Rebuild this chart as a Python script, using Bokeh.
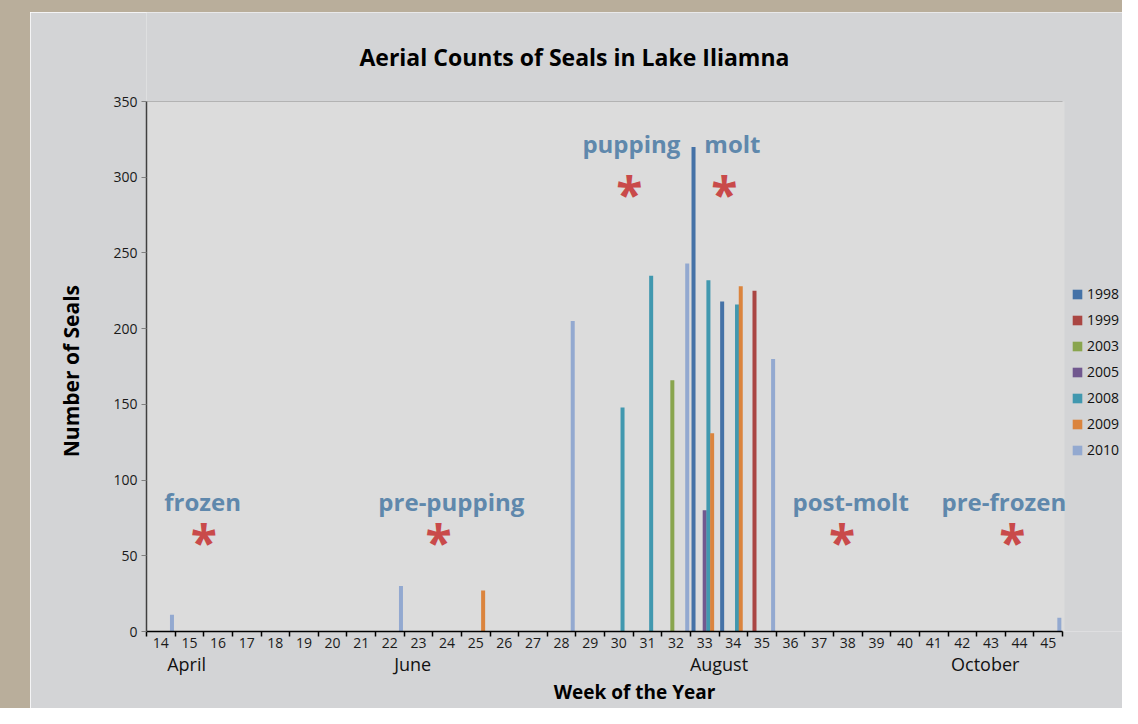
from bokeh.plotting import figure
from bokeh.models import (ColumnDataSource, FixedTicker, LinearAxis, Legend, LegendItem,
                          Label, Range1d, Spacer, BoxAnnotation)
from bokeh.layouts import row, column
from bokeh.transform import dodge
from bokeh.embed import file_html
from bokeh.resources import INLINE

# ---------------- data ----------------
weeks = list(range(14, 46))
week_tick_labels = [str(w) for w in weeks]
years = ["1998", "1999", "2003", "2005", "2008", "2009", "2010"]
colors = ["#4572a7", "#aa4643", "#89a54e", "#71588f", "#4198af", "#db843d", "#93a9d0"]

weeks_1998 = [33, 34]
counts_1998 = [320, 218]
weeks_1999 = [35]
counts_1999 = [225]
weeks_2003 = [32]
counts_2003 = [166]
weeks_2005 = [33]
counts_2005 = [80]
weeks_2008 = [30, 31, 33, 34]
counts_2008 = [148, 235, 232, 216]
weeks_2009 = [25, 33, 34]
counts_2009 = [27, 131, 228]
weeks_2010 = [14, 22, 28, 32, 35, 45]
counts_2010 = [11, 30, 205, 243, 180, 9]

series_weeks = [weeks_1998, weeks_1999, weeks_2003, weeks_2005, weeks_2008, weeks_2009, weeks_2010]
series_counts = [counts_1998, counts_1999, counts_2003, counts_2005, counts_2008, counts_2009, counts_2010]

months = ["April", "June", "August", "October"]
month_weeks = [14.9, 22.8, 33.5, 42.8]

y_ticks = [0, 50, 100, 150, 200, 250, 300, 350]

title_text = "Aerial Counts of Seals in Lake Iliamna"
y_title = "Number of Seals"
x_title = "Week of the Year"

phases = ["frozen", "pre-pupping", "pupping", "molt", "post-molt", "pre-frozen"]
phase_x = [15.46, 24.15, 30.44, 33.97, 38.1, 43.45]
phase_y = [86, 86, 322, 322, 86, 86]
star_x = [15.5, 23.7, 30.37, 33.69, 37.8, 43.75]
star_y = [59.3, 59.3, 289.4, 289.4, 59.3, 59.3]

# ---------------- layout / styles ----------------
FONT = "Open Sans"
TAN = "#b9ae9b"
PANEL = "#d3d4d6"
PLOTBG = "#dcdcdc"

X_START, X_END = 13.5, 45.5
Y_MAX = 350
PX_PER_WEEK = 28.625
PX_PER_SEAL = 530 / Y_MAX
FRAME_W, FRAME_H = 976, 619          # frame also hosts the legend (right) and title (top)
x_range = Range1d(X_START, X_START + FRAME_W / PX_PER_WEEK)
y_range = Range1d(0, FRAME_H / PX_PER_SEAL)

p = figure(width=1092, height=696, x_range=x_range, y_range=y_range,
           output_backend="svg", toolbar_location=None,
           min_border_left=116, min_border_right=0, min_border_top=0, min_border_bottom=77,
           background_fill_color=PANEL, border_fill_color=PANEL)
p.outline_line_color = None
p.title.text = ""

# plot-area fill (only over the chart area)
p.add_layout(BoxAnnotation(left=X_START, right=X_END + 0.07, bottom=0, top=Y_MAX,
                           fill_color=PLOTBG, fill_alpha=1.0, line_color=None, level="underlay"))

# title
p.add_layout(Label(x=28.45, y=379.7, text=title_text, text_align="center", text_baseline="middle",
                   text_font=FONT, text_font_size="23px", text_font_style="bold",
                   text_color="#000000"))

# y axis (label padded with no-break spaces so it centres on the 0-350 span)
p.yaxis.ticker = FixedTicker(ticks=y_ticks)
p.yaxis.bounds = (0, Y_MAX)
p.yaxis.axis_line_color = "#404040"
p.yaxis.axis_line_width = 1.5
p.yaxis.major_tick_out = 5
p.yaxis.major_tick_in = 0
p.yaxis.major_tick_line_color = "#808080"
p.yaxis.minor_tick_line_color = None
p.yaxis.major_label_text_font = FONT
p.yaxis.major_label_text_font_size = "14px"
p.yaxis.major_label_text_color = "#1a1a1a"
p.yaxis.major_label_standoff = 4
p.yaxis.axis_label = y_title + "\u00a0" * 18
p.yaxis.axis_label_text_font = FONT
p.yaxis.axis_label_text_font_size = "21px"
p.yaxis.axis_label_text_font_style = "bold"
p.yaxis.axis_label_text_color = "#000000"
p.yaxis.axis_label_standoff = 25

# horizontal grid lines limited to the chart area
p.segment(x0=[X_START] * len(y_ticks), x1=[X_END] * len(y_ticks), y0=y_ticks, y1=y_ticks,
          line_color="#8a8a8a", line_width=1, level="underlay")
p.xgrid.visible = False
p.ygrid.visible = False

# x axis (weeks)
p.xaxis.ticker = FixedTicker(ticks=weeks, minor_ticks=[w - 0.5 for w in weeks] + [weeks[-1] + 0.5])
p.xaxis.bounds = (X_START, X_END)
p.xaxis.major_label_overrides = {w: s for w, s in zip(weeks, week_tick_labels)}
p.xaxis.axis_line_color = "#000000"
p.xaxis.axis_line_width = 1.5
p.xaxis.major_tick_line_color = None
p.xaxis.major_tick_out = 0
p.xaxis.major_tick_in = 0
p.xaxis.minor_tick_line_color = "#000000"
p.xaxis.minor_tick_line_width = 1.5
p.xaxis.minor_tick_out = 5
p.xaxis.minor_tick_in = 0
p.xaxis.major_label_text_font = FONT
p.xaxis.major_label_text_font_size = "14px"
p.xaxis.major_label_text_color = "#1a1a1a"
p.xaxis.major_label_standoff = 1

# month axis
month_axis = LinearAxis(ticker=FixedTicker(ticks=month_weeks), bounds=(X_START, X_END),
                        major_label_overrides={m: t for m, t in zip(month_weeks, months)})
month_axis.axis_line_color = None
month_axis.major_tick_line_color = None
month_axis.major_tick_out = 0
month_axis.major_tick_in = 0
month_axis.minor_tick_line_color = None
month_axis.minor_tick_out = 0
month_axis.major_label_text_font = FONT
month_axis.major_label_text_font_size = "18px"
month_axis.major_label_text_color = "#111111"
month_axis.major_label_standoff = 1
month_axis.axis_label = x_title
month_axis.axis_label_text_font = FONT
month_axis.axis_label_text_font_size = "19px"
month_axis.axis_label_text_font_style = "bold"
month_axis.axis_label_text_color = "#000000"
month_axis.axis_label_standoff = 0
p.add_layout(month_axis, "below")

# bars
bar_step = 0.13
items = []
for i, (yr, col, wk, ct) in enumerate(zip(years, colors, series_weeks, series_counts)):
    src = ColumnDataSource(dict(week=wk, count=ct))
    r = p.vbar(x=dodge("week", (i - 3) * bar_step, range=p.x_range), top="count", bottom=0,
               width=0.14, source=src, fill_color=col, line_color=None)
    items.append(LegendItem(label=yr, renderers=[r]))

legend = Legend(items=items, location=(925, 172))
legend.glyph_width = 12
legend.glyph_height = 12
legend.label_height = 12
legend.spacing = 7
legend.padding = 0
legend.margin = 0
legend.label_standoff = 4
legend.label_text_font = FONT
legend.label_text_font_size = "14px"
legend.label_text_color = "#111111"
legend.border_line_color = None
legend.background_fill_alpha = 0
p.add_layout(legend, "center")

# phase annotations
for t, x, y in zip(phases, phase_x, phase_y):
    p.add_layout(Label(x=x, y=y, text=t, text_align="center", text_baseline="middle",
                       text_font=FONT, text_font_size="24px", text_font_style="bold",
                       text_color="#5f88ac"))
for x, y in zip(star_x, star_y):
    p.add_layout(Label(x=x, y=y, text="*", text_align="center", text_baseline="middle",
                       text_font=FONT, text_font_size="48px", text_font_style="bold",
                       text_color="#c94a4a"))

left_strip = Spacer(width=30, height=696, styles={"background-color": TAN})
top_strip = Spacer(width=1122, height=12, styles={"background-color": TAN})
layout = column(top_strip, row(left_strip, p))

open("out.html", "w").write(file_html(layout, INLINE))
